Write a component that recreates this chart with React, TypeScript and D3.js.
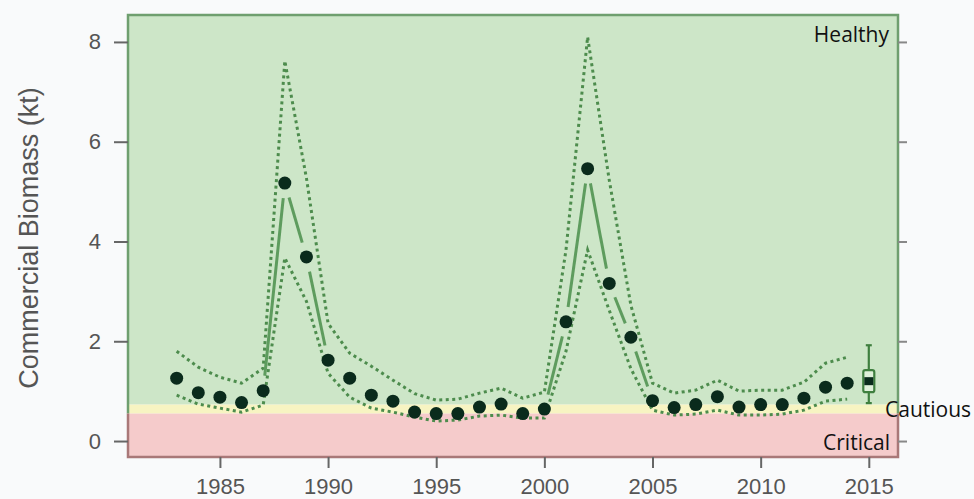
import React, { useEffect, useRef } from 'react'
import * as d3 from 'd3'

// survey years and biomass estimates (kt)
const years = d3.range(1983, 2015)
const median = [1.26, 0.97, 0.88, 0.77, 1.01, 5.17, 3.69, 1.62, 1.26, 0.92, 0.8, 0.58, 0.55, 0.55, 0.68, 0.74,
  0.55, 0.64, 2.39, 5.46, 3.16, 2.08, 0.81, 0.67, 0.73, 0.89, 0.68, 0.73, 0.73, 0.86, 1.08, 1.16]
const upper = [1.8, 1.48, 1.28, 1.16, 1.46, 7.62, 5.27, 2.36, 1.76, 1.5, 1.22, 0.95, 0.82, 0.84, 0.96, 1.06,
  0.86, 0.98, 3.83, 8.1, 5.23, 2.72, 1.16, 0.96, 1.02, 1.22, 1.0, 1.02, 1.02, 1.18, 1.56, 1.68]
const lower = [0.92, 0.74, 0.66, 0.58, 0.72, 3.67, 2.8, 1.36, 0.88, 0.66, 0.58, 0.48, 0.4, 0.42, 0.5, 0.52,
  0.46, 0.46, 1.8, 3.83, 2.62, 1.45, 0.62, 0.52, 0.54, 0.62, 0.52, 0.52, 0.54, 0.62, 0.8, 0.84]

// 2015 projection: whisker low, box low, median, box high, whisker high
const projYear = 2015
const projection = [0.76, 0.98, 1.2, 1.42, 1.92]

// reference points
const LRP = 0.55
const USR = 0.73

const xTicks = [1985, 1990, 1995, 2000, 2005, 2010, 2015]
const yTicks = [0, 2, 4, 6, 8]

const W = 974
const H = 499

function BiomassChart() {
  const ref = useRef<SVGSVGElement>(null)

  useEffect(() => {
    const svg = d3.select(ref.current)
    svg.selectAll('*').remove()

    const x = d3.scaleLinear().domain([1980.75, 2016.35]).range([128, 898])
    const y = d3.scaleLinear().domain([-0.32, 8.54]).range([457, 15])
    const [x0, x1] = x.range()
    const [yb, yt] = y.range()

    svg.append('rect').attr('width', W).attr('height', H).attr('fill', '#f9fafb')

    // zones
    svg.append('rect').attr('x', x0).attr('y', yt).attr('width', x1 - x0).attr('height', y(USR) - yt)
      .attr('fill', '#cde6c8')
    svg.append('rect').attr('x', x0).attr('y', y(USR)).attr('width', x1 - x0).attr('height', y(LRP) - y(USR))
      .attr('fill', '#f7f4c2')
    svg.append('rect').attr('x', x0).attr('y', y(LRP)).attr('width', x1 - x0).attr('height', yb - y(LRP))
      .attr('fill', '#f5cbcb')

    // frame
    svg.append('path')
      .attr('d', `M${x0},${y(LRP)}V${yt}H${x1}V${y(LRP)}`)
      .attr('fill', 'none').attr('stroke', '#6f9f6f').attr('stroke-width', 2.5)
    svg.append('path')
      .attr('d', `M${x0},${y(LRP)}V${yb}H${x1}V${y(LRP)}`)
      .attr('fill', 'none').attr('stroke', '#a97878').attr('stroke-width', 2.5)

    const axisText = (g: any) => g.selectAll('text')
      .attr('font-family', '"Liberation Sans", Arial, sans-serif')
      .attr('font-size', 22)
      .attr('fill', '#555')

    svg.append('g').attr('transform', `translate(${x0},0)`)
      .call(d3.axisLeft(y).tickValues(yTicks).tickSizeInner(14).tickSizeOuter(0).tickPadding(13))
      .call((g: any) => g.select('.domain').remove())
      .call((g: any) => g.selectAll('line').attr('stroke', '#666').attr('stroke-width', 2))
      .call(axisText)

    svg.append('g').attr('transform', `translate(${x1},0)`)
      .call(d3.axisRight(y).tickValues(yTicks).tickSizeInner(9).tickSizeOuter(0).tickFormat(() => ''))
      .call((g: any) => g.select('.domain').remove())
      .call((g: any) => g.selectAll('line').attr('stroke', '#888').attr('stroke-width', 2))

    svg.append('g').attr('transform', `translate(0,${yb})`)
      .call(d3.axisBottom(x).tickValues(xTicks).tickSizeInner(11).tickSizeOuter(0).tickPadding(10)
        .tickFormat(d3.format('d')))
      .call((g: any) => g.select('.domain').remove())
      .call((g: any) => g.selectAll('line').attr('stroke', '#666').attr('stroke-width', 2))
      .call(axisText)

    svg.append('text')
      .attr('transform', `translate(38,${(yt + yb) / 2 + 2}) rotate(-90)`)
      .attr('text-anchor', 'middle')
      .attr('font-family', '"Liberation Sans", Arial, sans-serif')
      .attr('font-size', 27)
      .attr('fill', '#555')
      .text('Commercial Biomass (kt)')

    // zone labels
    const zoneFont = '"Open Sans", "Noto Sans", sans-serif'
    svg.append('text').attr('x', 889).attr('y', 42).attr('text-anchor', 'end')
      .attr('font-family', zoneFont).attr('font-size', 21).attr('fill', '#111').text('Healthy')
    svg.append('text').attr('x', 885).attr('y', 417)
      .attr('font-family', zoneFont).attr('font-size', 21).attr('fill', '#111').text('Cautious')
    svg.append('text').attr('x', 890).attr('y', 450).attr('text-anchor', 'end')
      .attr('font-family', zoneFont).attr('font-size', 21).attr('fill', '#111').text('Critical')

    // credible bounds
    const bound = d3.line<number>().x((_, i) => x(years[i])).y(d => y(d))
    ;[upper, lower].forEach(s => {
      svg.append('path').attr('d', bound(s))
        .attr('fill', 'none').attr('stroke', '#4d8c4d').attr('stroke-width', 3)
        .attr('stroke-dasharray', '3 3.5')
    })

    // median: segments with gaps around points (type = "b")
    const gap = 15
    const segs = d3.pairs(median.map((v, i) => [x(years[i]), y(v)]))
    svg.append('g').selectAll('line')
      .data(segs.filter(([a, b]) => Math.hypot(b[0] - a[0], b[1] - a[1]) > gap * 2 + 2))
      .join('line')
      .each(function ([a, b]) {
        const len = Math.hypot(b[0] - a[0], b[1] - a[1])
        const ux = (b[0] - a[0]) / len
        const uy = (b[1] - a[1]) / len
        d3.select(this)
          .attr('x1', a[0] + ux * gap).attr('y1', a[1] + uy * gap)
          .attr('x2', b[0] - ux * gap).attr('y2', b[1] - uy * gap)
      })
      .attr('stroke', '#5e9c5e').attr('stroke-width', 3)

    svg.append('g').selectAll('circle')
      .data(median)
      .join('circle')
      .attr('cx', (_, i) => x(years[i]))
      .attr('cy', d => y(d))
      .attr('r', 6.5)
      .attr('fill', '#0a2b1c')

    // 2015 projection box
    const px = x(projYear)
    const [wl, bl, md, bh, wh] = projection
    const box = svg.append('g').attr('stroke', '#3f7f3f').attr('stroke-width', 2.2)
    box.append('line').attr('x1', px).attr('x2', px).attr('y1', y(wl)).attr('y2', y(bl))
    box.append('line').attr('x1', px).attr('x2', px).attr('y1', y(bh)).attr('y2', y(wh))
    box.append('line').attr('x1', px - 3).attr('x2', px + 3).attr('y1', y(wl)).attr('y2', y(wl))
    box.append('line').attr('x1', px - 3).attr('x2', px + 3).attr('y1', y(wh)).attr('y2', y(wh))
    box.append('rect').attr('x', px - 5.5).attr('y', y(bh)).attr('width', 11).attr('height', y(bl) - y(bh))
      .attr('rx', 2).attr('fill', '#dff0da')
    svg.append('rect').attr('x', px - 4.5).attr('y', y(md) - 4).attr('width', 9).attr('height', 8)
      .attr('fill', '#0a2b1c')
  }, [])

  return <svg ref={ref} width={W} height={H} style={{ position: 'absolute', left: 0, top: 0 }} />
}

export default function App() {
  return <BiomassChart />
}
